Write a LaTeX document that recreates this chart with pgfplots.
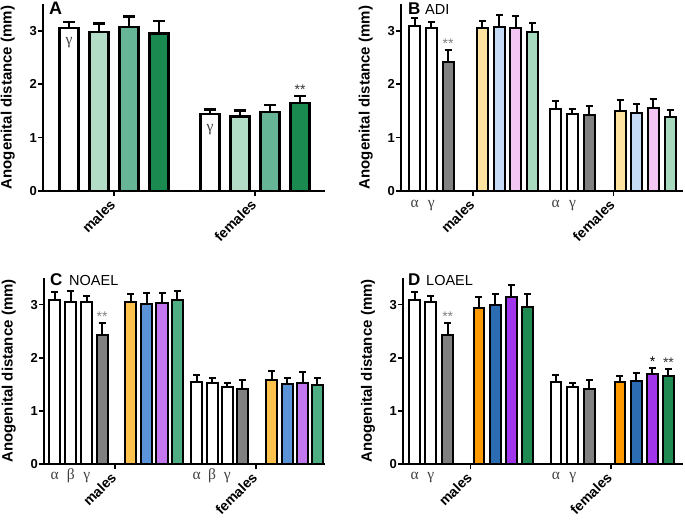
\documentclass[border=0pt]{standalone}
\usepackage{pgfplots}
\pgfplotsset{compat=1.18}
\usepackage{fontspec}
\setmainfont{Liberation Sans}
\newfontfamily\grk{Liberation Serif}
\definecolor{aL}{HTML}{B3DDC6}
\definecolor{aM}{HTML}{66B597}
\definecolor{aD}{HTML}{1B8A50}
\definecolor{bY}{HTML}{FDE2A0}
\definecolor{bB}{HTML}{C4DAF5}
\definecolor{bP}{HTML}{F3C5F3}
\definecolor{bG}{HTML}{A6D9BD}
\definecolor{cY}{HTML}{FCC24C}
\definecolor{cB}{HTML}{5B93D9}
\definecolor{cP}{HTML}{C377EE}
\definecolor{cG}{HTML}{4FAD84}
\definecolor{dO}{HTML}{FF9900}
\definecolor{dB}{HTML}{2B6CB2}
\definecolor{dP}{HTML}{A135EC}
\definecolor{dG}{HTML}{1F8B52}
\definecolor{gbar}{HTML}{808080}
\pgfplotsset{
  panel/.style={
    scale only axis, anchor=south west, clip=false,
    ymin=0, ymax=3.5, ytick={0,1,2,3},
    axis x line*=bottom, axis y line*=left,
    axis line style={-, line width=2pt, black},
    tick style={line width=1.6pt, black},
    major tick length=5pt, tick align=outside,
    /pgf/number format/assume math mode=true,
    yticklabel style={font=\fontsize{13}{13}\selectfont\bfseries, inner sep=1pt},
    xticklabels={males,females},
    xticklabel style={font=\fontsize{14}{14}\selectfont\bfseries, xshift=-5pt, yshift=-1pt, rotate=45, anchor=north east, inner sep=1pt},
    ylabel={Anogenital distance (mm)},
    ylabel style={font=\fontsize{15}{15}\selectfont\bfseries, at={(axis description cs:-0.125,0.5)}, anchor=center},
  },
  bx/.style n args={3}{ybar, bar shift=0pt, bar width=#2, draw=black, line width=#1,
    error bars/y dir=plus, error bars/y explicit,
    error bars/error bar style={line width=#1, black},
    error bars/error mark options={rotate=90, line width=#1, black, mark size=#3}},
}
\tikzset{
  gr/.style={font=\grk\fontsize{15.5}{15.5}\selectfont, text=black!75, anchor=base, inner sep=0pt},
  st/.style={font=\fontsize{14}{14}\selectfont, anchor=base, inner sep=0pt},
}
\begin{document}
\begin{tikzpicture}
\useasboundingbox (0pt,0pt) rectangle (685pt,522pt);
% ---------------- A ----------------
\begin{axis}[panel, at={(43pt,331pt)}, width=282pt, height=187pt,
  xmin=-0.867, xmax=8.53, xtick={1.5,6.2}]
\addplot[bx={2.6pt}{0.62}{6pt}, fill=white]
  coordinates {(0,3.05) +- (0,0.11) (4.7,1.44) +- (0,0.09)};
\addplot[bx={2.6pt}{0.62}{6pt}, fill=aL]
  coordinates {(1,2.975) +- (0,0.165) (5.7,1.39) +- (0,0.12)};
\addplot[bx={2.6pt}{0.62}{6pt}, fill=aM]
  coordinates {(2,3.07) +- (0,0.20) (6.7,1.48) +- (0,0.13)};
\addplot[bx={2.6pt}{0.62}{6pt}, fill=aD]
  coordinates {(3,2.95) +- (0,0.23) (7.7,1.65) +- (0,0.13)};
\node[gr] at (axis cs:0,2.74) {γ};
\node[gr] at (axis cs:4.7,1.11) {γ};
\node[st, text=black!80] at (axis cs:7.7,1.80) {**};
\end{axis}
\node[anchor=base west, inner sep=0pt, font=\fontsize{18}{18}\selectfont\bfseries] at (49pt,507pt) {A};
% ---------------- B ----------------
\begin{axis}[panel, at={(401pt,331pt)}, width=282pt, height=187pt,
  xmin=-0.82, xmax=16.07, xtick={3.5,11.9}]
\addplot[bx={2pt}{0.66}{3.5pt}, fill=white] coordinates {(0,3.08) +- (0,0.16) (8.45,1.54) +- (0,0.15)};
\addplot[bx={2pt}{0.66}{3.5pt}, fill=white] coordinates {(1,3.05) +- (0,0.11) (9.45,1.44) +- (0,0.09)};
\addplot[bx={2pt}{0.66}{3.5pt}, fill=gbar] coordinates {(2,2.42) +- (0,0.22) (10.45,1.42) +- (0,0.17)};
\addplot[bx={2pt}{0.66}{3.5pt}, fill=bY] coordinates {(4.05,3.05) +- (0,0.14) (12.3,1.50) +- (0,0.20)};
\addplot[bx={2pt}{0.66}{3.5pt}, fill=bB] coordinates {(5.05,3.07) +- (0,0.22) (13.3,1.46) +- (0,0.17)};
\addplot[bx={2pt}{0.66}{3.5pt}, fill=bP] coordinates {(6.05,3.05) +- (0,0.23) (14.3,1.56) +- (0,0.16)};
\addplot[bx={2pt}{0.66}{3.5pt}, fill=bG] coordinates {(7.05,2.975) +- (0,0.165) (15.3,1.39) +- (0,0.12)};
\node[gr] at (axis cs:0,-0.30) {α};
\node[gr] at (axis cs:1,-0.30) {γ};
\node[gr] at (axis cs:8.45,-0.30) {α};
\node[gr] at (axis cs:9.45,-0.30) {γ};
\node[st, text=black!50] at (axis cs:2,2.66) {**};
\end{axis}
\node[anchor=base west, inner sep=0pt, font=\fontsize{17}{17}\selectfont\bfseries] at (408pt,507pt) {B};
\node[anchor=base west, inner sep=0pt, font=\fontsize{14.5}{14.5}\selectfont] at (425pt,507pt) {ADI};
% ---------------- C ----------------
\begin{axis}[panel, at={(44pt,58pt)}, width=281pt, height=186pt,
  xmin=-0.69, xmax=17.55, xtick={3.92,13.07}]
\addplot[bx={2pt}{0.72}{3.5pt}, fill=white] coordinates {(0,3.09) +- (0,0.14) (9.22,1.54) +- (0,0.14)};
\addplot[bx={2pt}{0.72}{3.5pt}, fill=white] coordinates {(1.05,3.05) +- (0,0.21) (10.22,1.53) +- (0,0.08)};
\addplot[bx={2pt}{0.72}{3.5pt}, fill=white] coordinates {(2.08,3.05) +- (0,0.12) (11.2,1.44) +- (0,0.09)};
\addplot[bx={2pt}{0.72}{3.5pt}, fill=gbar] coordinates {(3.08,2.42) +- (0,0.24) (12.18,1.42) +- (0,0.17)};
\addplot[bx={2pt}{0.72}{3.5pt}, fill=cY] coordinates {(4.95,3.05) +- (0,0.14) (14.1,1.58) +- (0,0.17)};
\addplot[bx={2pt}{0.72}{3.5pt}, fill=cB] coordinates {(5.97,3.01) +- (0,0.20) (15.1,1.51) +- (0,0.10)};
\addplot[bx={2pt}{0.72}{3.5pt}, fill=cP] coordinates {(6.97,3.03) +- (0,0.18) (16.1,1.53) +- (0,0.20)};
\addplot[bx={2pt}{0.72}{3.5pt}, fill=cG] coordinates {(7.95,3.08) +- (0,0.18) (17.05,1.48) +- (0,0.13)};
\node[gr] at (axis cs:0,-0.30) {α};
\node[gr] at (axis cs:1.05,-0.30) {β};
\node[gr] at (axis cs:2.08,-0.30) {γ};
\node[gr] at (axis cs:9.22,-0.30) {α};
\node[gr] at (axis cs:10.22,-0.30) {β};
\node[gr] at (axis cs:11.2,-0.30) {γ};
\node[st, text=black!50] at (axis cs:3.08,2.68) {**};
\end{axis}
\node[anchor=base west, inner sep=0pt, font=\fontsize{17}{17}\selectfont\bfseries] at (50pt,236pt) {C};
\node[anchor=base west, inner sep=0pt, font=\fontsize{14.5}{14.5}\selectfont] at (69pt,236pt) {NOAEL};
% ---------------- D ----------------
\begin{axis}[panel, at={(403pt,58pt)}, width=280pt, height=186pt,
  xmin=-0.71, xmax=16.26, xtick={3.39,11.88}]
\addplot[bx={2pt}{0.66}{3.5pt}, fill=white] coordinates {(0,3.09) +- (0,0.14) (8.56,1.54) +- (0,0.14)};
\addplot[bx={2pt}{0.66}{3.5pt}, fill=white] coordinates {(0.97,3.05) +- (0,0.12) (9.58,1.44) +- (0,0.09)};
\addplot[bx={2pt}{0.66}{3.5pt}, fill=gbar] coordinates {(2.0,2.42) +- (0,0.24) (10.59,1.42) +- (0,0.17)};
\addplot[bx={2pt}{0.62}{3.5pt}, fill=dO] coordinates {(3.88,2.94) +- (0,0.20) (12.43,1.54) +- (0,0.12)};
\addplot[bx={2pt}{0.62}{3.5pt}, fill=dB] coordinates {(4.89,2.99) +- (0,0.20) (13.44,1.56) +- (0,0.16)};
\addplot[bx={2pt}{0.62}{3.5pt}, fill=dP] coordinates {(5.86,3.15) +- (0,0.22) (14.41,1.69) +- (0,0.12)};
\addplot[bx={2pt}{0.62}{3.5pt}, fill=dG] coordinates {(6.83,2.95) +- (0,0.24) (15.38,1.65) +- (0,0.14)};
\node[gr] at (axis cs:0,-0.30) {α};
\node[gr] at (axis cs:0.97,-0.30) {γ};
\node[gr] at (axis cs:8.56,-0.30) {α};
\node[gr] at (axis cs:9.58,-0.30) {γ};
\node[st, text=black!50] at (axis cs:2.0,2.68) {**};
\node[st, text=black] at (axis cs:14.41,1.83) {*};
\node[st, text=black!80] at (axis cs:15.38,1.81) {**};
\end{axis}
\node[anchor=base west, inner sep=0pt, font=\fontsize{17}{17}\selectfont\bfseries] at (408pt,236pt) {D};
\node[anchor=base west, inner sep=0pt, font=\fontsize{14.5}{14.5}\selectfont] at (426pt,236pt) {LOAEL};
\end{tikzpicture}
\end{document}
